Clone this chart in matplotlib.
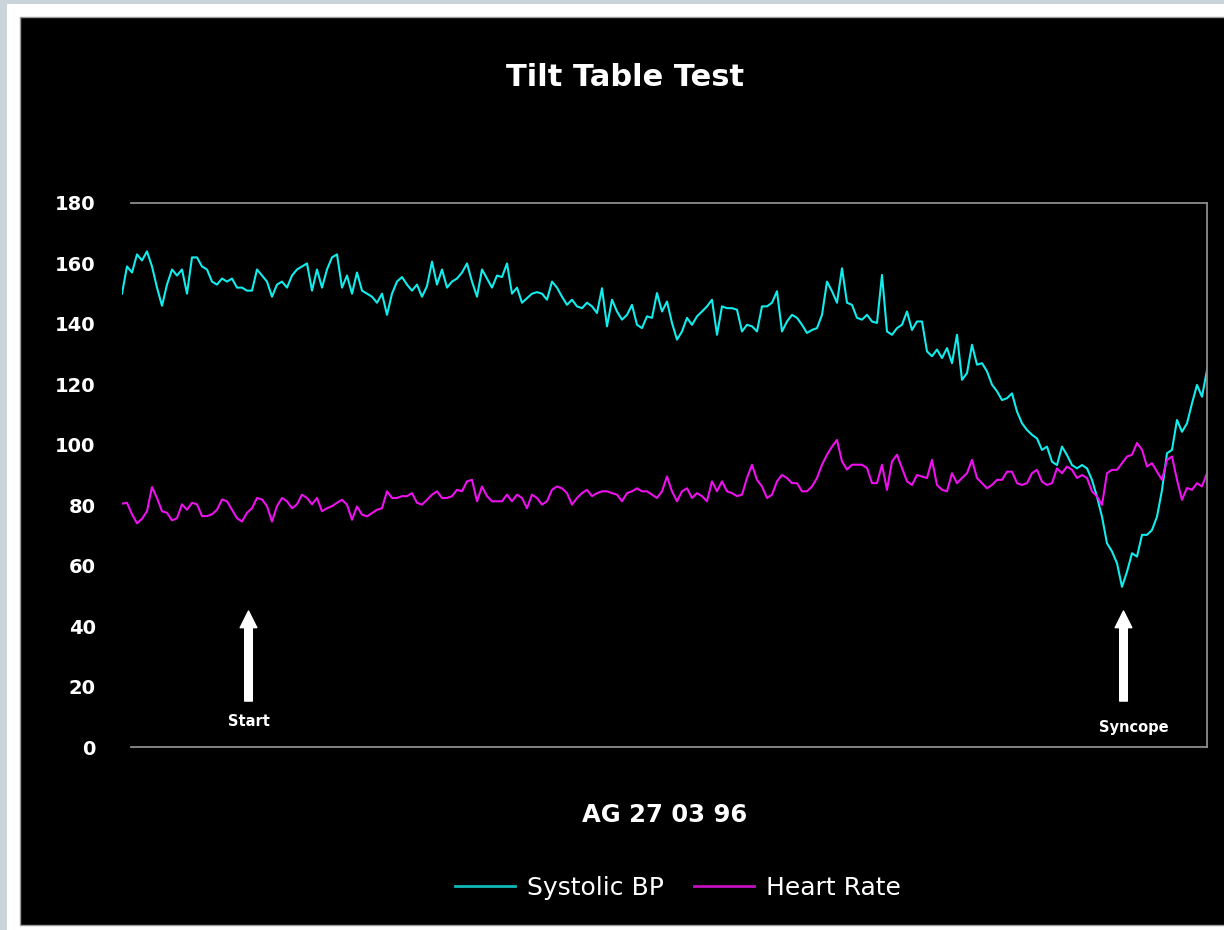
import matplotlib

matplotlib.use("Agg")
import matplotlib.pyplot as plt
import numpy as np
from matplotlib.lines import Line2D
from matplotlib.patches import Rectangle

W, H = 1224, 930

# Values, one every ~5 px from the left end.
systolic_bp = [
    150, 159, 157, 163, 161, 164, 159, 152, 146, 153, 158, 156, 158, 150, 162,
    162, 159, 158, 154, 153, 155, 154, 155, 152, 152, 151, 151, 158, 156, 154,
    149, 153, 154, 152, 156, 158, 159, 160, 151, 158, 152, 158, 162, 163,
    152, 156, 150, 157, 151, 150, 149, 147, 150, 143, 150, 154, 155.5, 153, 151,
    153, 149, 152.5, 160.6, 153, 158, 152, 154, 155, 157, 160, 154, 149, 158, 155,
    152, 156, 155.5, 160, 150, 152, 147, 148.5, 150, 150.5, 150, 148, 154, 152,
    149, 146.3, 148, 145.8, 145.2, 147, 145.8, 143.6, 151.8, 139.2, 148, 144.1,
    141.4, 143, 146.3, 139.7, 138.6, 142.5, 142, 150.2, 144.1, 147.4, 140.3, 134.8,
    137.5, 142, 139.7, 142.5, 144.1, 145.8, 148, 136.4, 145.8, 145.2, 145.2, 144.7,
    137.5, 139.7, 139.2, 137.5, 145.8, 145.8, 147, 150.8,
    137.5, 140.8, 143, 142, 139.7, 137, 138, 138.6, 143, 154, 150.8, 147, 158.4,
    147, 146.3, 142, 141.4, 143, 140.8, 140.3, 156.2, 137.5, 136.4, 138.6, 139.7,
    144.1, 138, 140.8, 140.8, 130.9, 129.3, 131.5, 128.7, 132, 127, 136.4, 121.5,
    123.7, 133.1, 126.5, 127, 124.3, 119.9, 117.7,
    114.8, 115.4, 117, 111, 107.1, 104.9, 103.3, 102.1, 98.3, 99.4, 94.4, 93.3,
    99.4, 96.6, 93.3, 92.2, 93.3, 92.2, 88.4, 82.8, 76.2, 67.4, 64.7, 60.8, 53,
    58, 64.1, 63, 70.2, 70.2, 71.8, 76.2, 85, 97.2, 98.3, 108.2, 104.3, 107.1,
    113.7, 119.8, 115.9, 124.7,
]
heart_rate = [
    80.5, 80.8, 77, 74, 75.5, 78, 86, 82.4, 78, 77.5, 75, 75.7, 80.3, 78.5, 80.8,
    80.3, 76.4, 76.4, 77, 78.5, 81.9, 81.3, 78.5, 75.7, 74.6, 77.5, 79, 82.4, 81.9,
    79.7, 74.6, 79.7, 82.4, 81.3, 79, 80.3, 83.5, 82.4, 80.3, 82.4, 78, 79, 79.7, 80.8,
    81.8, 80.2, 75.2, 79.6, 76.9, 76.3, 77.4, 78.5, 79, 84.6, 82.4, 82.4, 83, 83,
    84, 80.8, 80.2, 81.8, 83.5, 84.6, 82.4, 82.4, 83, 85.1, 84.6, 87.9, 88.4, 81.3,
    86.2, 83, 81.3, 81.3, 81.3, 83.5, 81.3, 83.5, 82.4, 79, 83.5, 82.4, 80.2, 81.3,
    85.1, 86.2,
    85.6, 84, 80.2, 82.4, 84, 85.1, 83, 84, 84.6, 84.6, 84, 83.5, 81.3, 84, 84.6,
    85.6, 84.6, 84.6, 83.5, 82.4, 84.6, 89.5, 84.6, 81.3, 84.6, 85.6, 82.4, 84, 83,
    81.3, 87.9, 84.6, 87.9, 84.6, 84, 83, 83.5, 89, 93.4, 88.4, 86.2, 82.4, 83.5, 87.9,
    90, 89, 87.3, 87.3, 84.6, 84.6, 86.2, 89, 93.4, 96.7, 99.4, 101.6, 94.5, 91.8,
    93.4, 93.4, 93.4, 92.3, 87.3, 87.3, 93.4, 85.1, 94.5, 96.7, 92.3, 87.9, 86.7, 90,
    89.5, 89, 95, 86.7, 85.1, 84.6, 90.6, 87.3, 89, 90.6, 95, 89, 87.3, 85.6, 86.7, 88.4,
    88.4, 91.1, 91.1, 87.3, 86.7, 87.3, 90.6, 91.7, 87.8, 86.7, 87.3, 92.2, 90.6,
    92.8, 91.7, 89, 90, 89, 84.6, 82.9, 80.1, 90.6, 91.7, 91.7, 93.9, 96.1, 96.7,
    100.6, 98.4, 92.8, 93.9, 91.1, 88.4, 95, 96.1, 88.4, 81.8, 85.7, 85.1, 87.3,
    86.2, 90.6,
]
y_ticks = list(range(0, 181, 20))

# event markers: (sample index, label)
events = [(25.3, "Start"), (200.3, "Syncope")]

BP_COLOR = "#12ecec"
HR_COLOR = "#ee10ee"


def fx(px):
    return px / W


def fy(py):
    return 1 - py / H


fig = plt.figure(figsize=(W / 100, H / 100), dpi=100, facecolor="#c9d4db")
# white frame + black panel, kept under the axes
fig.patches.append(Rectangle((fx(7), 0), 1, fy(4), transform=fig.transFigure,
                             facecolor="white", edgecolor="none", zorder=-5))
fig.patches.append(Rectangle((fx(20), fy(925)), 1, fy(17) - fy(925),
                             transform=fig.transFigure, facecolor="black",
                             edgecolor="#9a9a9a", linewidth=1, zorder=-4))

ax = fig.add_axes([fx(122), fy(747), fx(1207) - fx(122), fy(203) - fy(747)])
ax.set_facecolor("none")
ax.set_zorder(2)

x = np.arange(len(systolic_bp))
ax.plot(x, systolic_bp, color=BP_COLOR, lw=1.5)
ax.plot(x, heart_rate, color=HR_COLOR, lw=1.5)

ax.set_xlim(0, len(systolic_bp) - 1)
ax.set_ylim(0, 180)
ax.set_xticks([])
ax.set_yticks(y_ticks)
ax.set_yticklabels([str(t) for t in y_ticks], color="white",
                   fontsize=14, fontweight="bold")
ax.tick_params(axis="y", length=0, pad=19)

ax.spines["left"].set_visible(False)
for side in ("top", "bottom", "right"):
    ax.spines[side].set_color("#8c8c8c")
    ax.spines[side].set_linewidth(1.3)
ax.spines["top"].set_bounds(1.8, len(systolic_bp) - 1)
ax.spines["bottom"].set_bounds(1.8, len(systolic_bp) - 1)

for xi, label in events:
    ax.annotate("", xy=(xi, 45.0), xytext=(xi, 15.2),
                arrowprops=dict(arrowstyle="simple,head_length=1.2,head_width=1.2,tail_width=0.55",
                                color="white", shrinkA=0, shrinkB=0))
    ax.text(xi + (2 if label == "Syncope" else 0), 8.5 if label == "Start" else 6.5,
            label, color="white", fontsize=10.5, fontweight="bold",
            ha="center", va="center")

fig.text(fx(625), fy(77), "Tilt Table Test", color="white", fontsize=22,
         fontweight="bold", ha="center", va="center")
fig.text(fx(665), fy(815), "AG 27 03 96", color="white", fontsize=17.5,
         fontweight="bold", ha="center", va="center")

handles = [Line2D([], [], color="#10b8b8", lw=2), Line2D([], [], color="#c010c0", lw=2)]
fig.legend(handles, ["Systolic BP", "Heart Rate"], loc="center",
           bbox_to_anchor=(fx(678), fy(888)), ncol=2, frameon=False,
           fontsize=18, labelcolor="white", handlelength=2.4,
           handletextpad=0.5, columnspacing=1.2)

fig.savefig("out.png", dpi=100, facecolor=fig.get_facecolor())
